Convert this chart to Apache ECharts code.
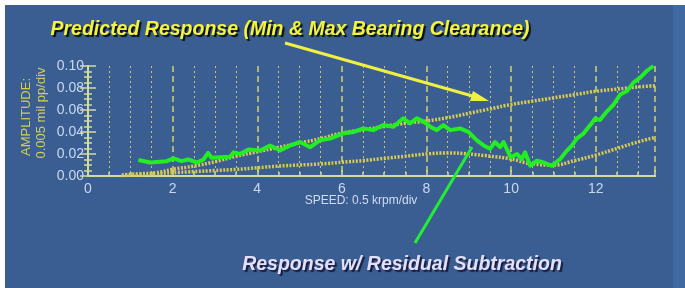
<!DOCTYPE html>
<html>
<head>
<meta charset="utf-8">
<script src="https://cdn.jsdelivr.net/npm/echarts@6/dist/echarts.min.js"></script>
<style>
  html, body { margin: 0; padding: 0; background: #ffffff; }
  #chart { width: 685px; height: 288px; }
</style>
</head>
<body>
<div id="chart"></div>
<script>
// speed (krpm) and amplitude (mil pp)
const clearX = [0.8, 1.2, 1.6, 2.0, 2.5, 3.0, 3.5, 4.0, 4.5, 5.0, 5.5, 6.0, 6.5, 7.0, 7.5, 8.0, 8.5, 9.0, 9.5, 10.0, 10.5, 11.0, 11.5, 12.0, 12.5, 13.0, 13.4];
const maxClear = [0.001, 0.002, 0.003, 0.006, 0.009, 0.013, 0.018, 0.022, 0.026, 0.030, 0.034, 0.039, 0.042, 0.045, 0.048, 0.050, 0.053, 0.057, 0.061, 0.065, 0.068, 0.071, 0.074, 0.077, 0.079, 0.081, 0.082];
const minClear = [0.0005, 0.001, 0.002, 0.003, 0.004, 0.005, 0.006, 0.0075, 0.009, 0.010, 0.011, 0.0125, 0.014, 0.016, 0.018, 0.020, 0.021, 0.020, 0.018, 0.0155, 0.011, 0.010, 0.014, 0.019, 0.025, 0.031, 0.035];

const respX = [1.19, 1.47, 1.86, 2.02, 2.21, 2.37, 2.57, 2.73, 2.84, 2.92, 3.12, 3.36, 3.44, 3.59, 3.79, 4.07, 4.30, 4.54, 4.78, 5.01, 5.25, 5.48, 5.72, 6.02, 6.27, 6.51, 6.74, 6.98, 7.22, 7.45, 7.61, 7.77, 7.93, 8.09, 8.24, 8.40, 8.56, 8.79, 8.99, 9.19, 9.35, 9.50, 9.62, 9.74, 9.82, 9.99, 10.14, 10.25, 10.33, 10.45, 10.61, 10.76, 10.96, 11.16, 11.32, 11.44, 11.55, 11.71, 11.87, 11.99, 12.10, 12.26, 12.42, 12.58, 12.74, 12.89, 13.05, 13.21, 13.36];
const respY = [0.0145, 0.0122, 0.0135, 0.0160, 0.0135, 0.0150, 0.0123, 0.0150, 0.0210, 0.0165, 0.0170, 0.0175, 0.0215, 0.0200, 0.0240, 0.0231, 0.0278, 0.0231, 0.0278, 0.0309, 0.0262, 0.0324, 0.0340, 0.0386, 0.0400, 0.0432, 0.0417, 0.0463, 0.0448, 0.0525, 0.0478, 0.0525, 0.0494, 0.0448, 0.0417, 0.0463, 0.0417, 0.0432, 0.0401, 0.0324, 0.0278, 0.0247, 0.0309, 0.0262, 0.0309, 0.0170, 0.0200, 0.0154, 0.0216, 0.0093, 0.0139, 0.0123, 0.0093, 0.0154, 0.0231, 0.0278, 0.0340, 0.0386, 0.0463, 0.0525, 0.0509, 0.0586, 0.0648, 0.0741, 0.0772, 0.0849, 0.0895, 0.0957, 0.1000];

const pairs = (xs, ys) => xs.map((x, i) => [x, ys[i]]);

const chart = echarts.init(document.getElementById("chart"));

const frameColor = "#d4dc9a";
const gridYellow = "#d6d46a";
const clearColor = "#d8cc4e";

chart.setOption({
  backgroundColor: "#3b5e92",
  animation: false,
  grid: { left: 88, right: 30, top: 66, bottom: 112 },
  xAxis: [
    {
      type: "value",
      min: 0,
      max: 13.4,
      interval: 2,
      axisLine: { show: true, lineStyle: { color: frameColor, width: 2 } },
      axisTick: { show: true, inside: true, length: 6, lineStyle: { color: frameColor, width: 1.5 } },
      minorTick: { show: true, splitNumber: 4, length: 4, lineStyle: { color: frameColor, width: 1.5 } },
      axisLabel: {
        color: "#c8d8f0",
        fontSize: 14,
        fontFamily: "Liberation Sans, Arial, sans-serif",
        margin: 6,
        showMaxLabel: false
      },
      splitLine: { show: true, lineStyle: { color: gridYellow, width: 1.5, type: [6, 4] } },
      minorSplitLine: { show: true, lineStyle: { color: "#c4c470", width: 1, type: [2, 3] } }
    },
    {
      type: "value",
      position: "top",
      min: 0,
      max: 13.4,
      axisLine: { show: true, lineStyle: { color: frameColor, width: 2 } },
      axisTick: { show: false },
      axisLabel: { show: false },
      splitLine: { show: false }
    }
  ],
  yAxis: [
    {
      type: "value",
      min: 0,
      max: 0.1,
      interval: 0.02,
      axisLine: { show: true, lineStyle: { color: frameColor, width: 2 } },
      axisTick: { show: true, inside: true, length: 8, lineStyle: { color: frameColor, width: 1.5 } },
      minorTick: { show: true, splitNumber: 4, length: 4, lineStyle: { color: frameColor, width: 1.5 } },
      axisLabel: {
        color: "#c8d8f0",
        fontSize: 14,
        fontFamily: "Liberation Sans, Arial, sans-serif",
        margin: 4,
        formatter: (v) => v.toFixed(2)
      },
      splitLine: { show: false }
    },
    {
      type: "value",
      position: "right",
      min: 0,
      max: 0.1,
      interval: 0.02,
      axisLine: { show: true, lineStyle: { color: frameColor, width: 2 } },
      axisTick: { show: true, inside: true, length: 8, lineStyle: { color: frameColor, width: 1.5 } },
      minorTick: { show: true, splitNumber: 4, length: 4, lineStyle: { color: frameColor, width: 1.5 } },
      axisLabel: { show: false },
      splitLine: { show: false }
    }
  ],
  series: [
    {
      name: "Max clearance",
      type: "line",
      data: pairs(clearX, maxClear),
      smooth: true,
      symbol: "none",
      lineStyle: { color: clearColor, width: 3.5, type: [2, 1.5] },
      z: 3
    },
    {
      name: "Min clearance",
      type: "line",
      data: pairs(clearX, minClear),
      smooth: true,
      symbol: "none",
      lineStyle: { color: clearColor, width: 3.5, type: [2, 1.5] },
      z: 3
    },
    {
      name: "Response",
      type: "line",
      data: pairs(respX, respY),
      symbol: "none",
      lineStyle: { color: "#22ee22", width: 4, join: "round" },
      z: 4
    }
  ],
  graphic: [
    // photo border strips
    { type: "rect", shape: { x: 0, y: 0, width: 685, height: 5 }, style: { fill: "#ffffff" }, z: 100 },
    { type: "rect", shape: { x: 0, y: 0, width: 5, height: 288 }, style: { fill: "#ffffff" }, z: 100 },
    { type: "rect", shape: { x: 673, y: 5, width: 12, height: 283 }, style: { fill: "#4069a1" }, z: -1 },
    // axis names
    {
      type: "text", x: 26, y: 117, rotation: Math.PI / 2,
      style: { text: "AMPLITUDE:", fill: "#cfcf55", font: "13px Liberation Sans, Arial, sans-serif", align: "center", verticalAlign: "middle" }
    },
    {
      type: "text", x: 41, y: 113, rotation: Math.PI / 2,
      style: { text: "0.005 mil pp/div", fill: "#cfcf55", font: "13px Liberation Sans, Arial, sans-serif", align: "center", verticalAlign: "middle" }
    },
    {
      type: "text", x: 361, y: 201,
      style: { text: "SPEED: 0.5 krpm/div", fill: "#d0dcf0", font: "12px Liberation Sans, Arial, sans-serif", align: "center", verticalAlign: "middle" }
    },
    // callouts
    {
      type: "text", x: 290, y: 30, z: 50,
      style: {
        text: "Predicted Response (Min & Max Bearing Clearance)",
        fill: "#f4f43a",
        font: "italic bold 19.5px Liberation Sans, Arial, sans-serif",
        align: "center", verticalAlign: "middle",
        textShadowColor: "rgba(0,0,0,0.85)", textShadowOffsetX: 2, textShadowOffsetY: 2, textShadowBlur: 1
      }
    },
    {
      type: "text", x: 402, y: 265, z: 50,
      style: {
        text: "Response w/ Residual Subtraction",
        fill: "#e2e0fa",
        font: "italic bold 19.5px Liberation Sans, Arial, sans-serif",
        align: "center", verticalAlign: "middle",
        textShadowColor: "rgba(20,20,50,0.85)", textShadowOffsetX: 2, textShadowOffsetY: 2, textShadowBlur: 1
      }
    },
    {
      type: "line", z: 50,
      shape: { x1: 285, y1: 43, x2: 476, y2: 97 },
      style: { stroke: "#f0f040", lineWidth: 3 }
    },
    {
      type: "polygon", z: 50,
      shape: { points: [[489, 101], [473, 91], [470, 101]] },
      style: { fill: "#f0f040" }
    },
    {
      type: "line", z: 50,
      shape: { x1: 415, y1: 243, x2: 472, y2: 147 },
      style: { stroke: "#22ee33", lineWidth: 3 }
    }
  ]
});
</script>
</body>
</html>
